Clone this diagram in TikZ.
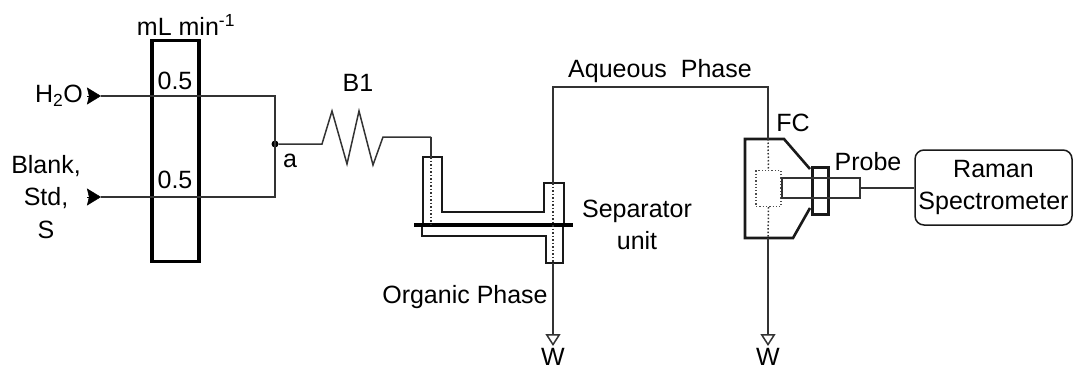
\documentclass[tikz,border=0pt]{standalone}
\usepackage{fontspec}
\setmainfont{Liberation Sans}
\usetikzlibrary{arrows.meta, positioning}
\newcommand\sepy{225}
\newcommand\fcx{768}

\begin{document}
\begin{tikzpicture}[x=1pt,y=-1pt,
    lbl/.style={font=\fontsize{25}{28}\selectfont, inner sep=0pt, align=center},
    pipe/.style={draw=black!80, line width=1.5pt},
    wall/.style={draw=black!90, line width=2pt},
    heavy/.style={draw=black, line width=3.4pt},
    dots/.style={draw=black!80, line width=1.5pt, dotted},
    inlet/.style={-{Stealth[length=14pt,width=17pt,inset=2pt]}},
    waste/.style={-{Triangle[open,length=12pt,width=15pt]}, pipe}]

    \useasboundingbox (0,0) rectangle (1073,370);

    % Pump
    \node at (175.5, 151) [heavy, minimum width=47pt, minimum height=221pt, inner sep=0pt] (pump) {};
    \node at (186, 25) [lbl] (unit) {mL min\textsuperscript{-1}};
    \node at (175, 81) [lbl] (r1) {0.5};
    \node at (175, 180) [lbl] (r2) {0.5};

    \node at (59, 96) [lbl] (h2o) {H\textsubscript{2}O};
    \node at (46, 197) [lbl, font=\fontsize{25}{32.5}\selectfont] (blank) {Blank,\\Std,\\S};

    \coordinate (h2otail) at (87, 96);
    \coordinate (h2otip) at (101, 96);
    \coordinate (blanktail) at (87, 197);
    \coordinate (blanktip) at (101, 197);
    \coordinate (c1) at (275, 96);
    \coordinate (c2) at (275, 197);
    \node at (275, 144) [circle, fill=black, inner sep=0pt, minimum size=7pt] (a) {};
    \node at (290, 161) [lbl] (alabel) {a};

    \draw[inlet] (h2otail) -- (h2otip);
    \draw[inlet] (blanktail) -- (blanktip);
    \draw[pipe] (h2otip) -- (c1) -- (c2) -- (blanktip);

    % B1
    \node at (358, 83) [lbl] (b1) {B1};
    \coordinate (r0) at (322, 144);
    \coordinate (r1a) at (332, 111);
    \coordinate (r2a) at (347, 164);
    \coordinate (r3a) at (359, 111);
    \coordinate (r4a) at (373, 165);
    \coordinate (r5a) at (383, 137);
    \coordinate (sepin) at (431, 137);
    \draw[pipe] (a) -- (r0) -- (r1a) -- (r2a) -- (r3a) -- (r4a) -- (r5a) -- (sepin);

    % Separator
    \coordinate (s1) at (423, \sepy);
    \coordinate (s2) at (423, 157);
    \coordinate (s3) at (442, 157);
    \coordinate (s4) at (442, 212);
    \coordinate (s5) at (544, 212);
    \coordinate (s6) at (544, 183);
    \coordinate (s7) at (564, 183);
    \coordinate (s8) at (564, \sepy);
    \coordinate (t1) at (422, \sepy);
    \coordinate (t2) at (422, 236);
    \coordinate (t3) at (546, 236);
    \coordinate (t4) at (546, 263);
    \coordinate (t5) at (563, 263);
    \coordinate (t6) at (563, \sepy);
    \coordinate (barl) at (414, \sepy);
    \coordinate (barr) at (573, \sepy);
    \coordinate (in1) at (431, 157);
    \coordinate (in2) at (431, \sepy);
    \coordinate (aq0) at (553, 183);
    \coordinate (aq1) at (553, 87);
    \coordinate (aq2) at (\fcx, 87);
    \coordinate (org0) at (553, 263);
    \coordinate (org1) at (553, 346);

    \draw[wall] (s1) -- (s2) -- (s3) -- (s4) -- (s5) -- (s6) -- (s7) -- (s8);
    \draw[wall] (t1) -- (t2) -- (t3) -- (t4) -- (t5) -- (t6);
    \draw[line width=3.4pt] (barl) -- (barr);
    \draw[pipe] (sepin) -- (in1);
    \draw[dots] (in1) -- (in2);
    \draw[dots] (aq0) -- (org0);
    \draw[waste] (org0) -- (org1);

    \node at (637, 225) [lbl, font=\fontsize{25}{32}\selectfont] (sep) {Separator\\unit};
    \node at (465, 297) [lbl] (org) {Organic Phase};
    \node at (553, 357) [lbl] (w1) {W};
    \node at (660, 71) [lbl] (aq) {Aqueous\hspace{7pt} Phase};

    % FC
    \coordinate (f1) at (745, 139);
    \coordinate (f2) at (784, 139);
    \coordinate (f3) at (810, 169);
    \coordinate (f4) at (810, 208);
    \coordinate (f5) at (793, 238);
    \coordinate (f6) at (745, 238);
    \coordinate (fctop) at (\fcx, 139);
    \coordinate (fcbot) at (\fcx, 238);
    \coordinate (wend) at (\fcx, 346);
    \node at (768.5, 188.5) [draw=black!70, line width=1.3pt, dotted, minimum width=25pt, minimum height=36pt, inner sep=0pt] (cell) {};
    \node at (820.5, 191) [wall, line width=2.4pt, minimum width=16pt, minimum height=47pt, inner sep=0pt] (nut) {};
    \node at (821, 188) [draw=black!80, line width=1.1pt, minimum width=78pt, minimum height=20pt, inner sep=0pt] (probe) {};

    \draw[wall, line width=2.6pt] (f3) -- (f2) -- (f1) -- (f6) -- (f5) -- (f4);
    \draw[pipe] (aq0) -- (aq1) -- (aq2) -- (fctop);
    \draw[dots] (fctop) -- (cell.north);
    \draw[dots] (cell.south) -- (fcbot);
    \draw[waste] (fcbot) -- (wend);

    \node at (793, 123) [lbl] (fc) {FC};
    \node at (868, 162) [lbl] (plabel) {Probe};
    \node at (768, 357) [lbl] (w2) {W};

    % Raman
    \node at (993.5, 187.5) [draw=black!90, line width=1.5pt, rounded corners=9pt, minimum width=157pt, minimum height=75pt, inner sep=0pt, lbl, font=\fontsize{25}{32}\selectfont] (raman) {Raman\\Spectrometer};
    \draw[pipe] (probe.east) -- (raman.west |- probe.east);

\end{tikzpicture}
\end{document}
